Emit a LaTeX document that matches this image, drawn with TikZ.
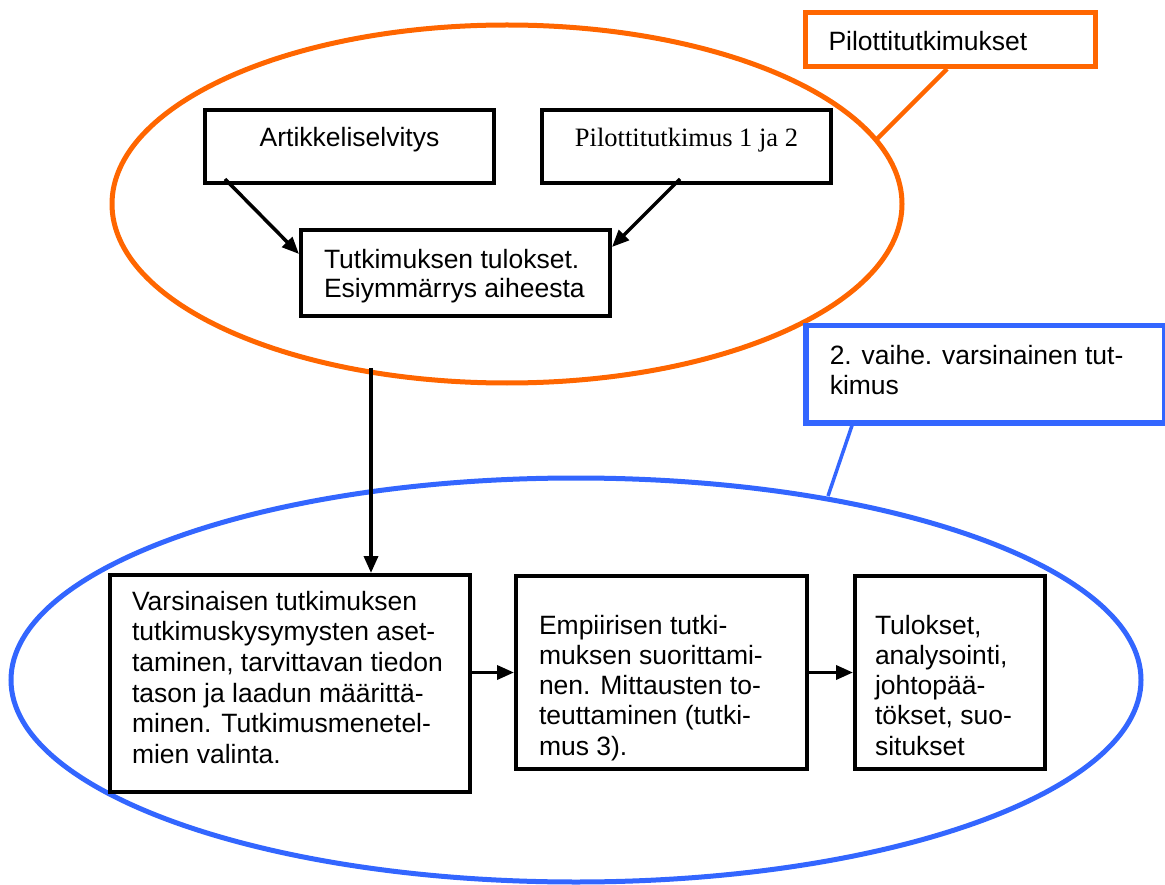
\documentclass[tikz,border=0pt]{standalone}
\usepackage{fontspec}
\setmainfont{Liberation Sans}
\newfontfamily\timesfont{Liberation Serif}
\usetikzlibrary{arrows.meta,calc}
\definecolor{ora}{HTML}{FF6600}
\definecolor{blu}{HTML}{3366FF}
% box contents: width, height, alignment setup, line skip, first baseline, text
\newcommand{\boxtext}[6]{\parbox[c][#2][t]{#1}{\fontsize{26.5pt}{#4}\selectfont#3\rule{0pt}{#5}#6}}

\begin{document}
\begin{tikzpicture}[x=1pt,y=-1pt,
  blackbox/.style={draw=black, line width=4pt, fill=white, inner sep=0pt, anchor=north west},
  orangebox/.style={draw=ora, line width=5pt, fill=white, inner sep=0pt, anchor=north west},
  bluebox/.style={draw=blu, line width=5.5pt, fill=white, inner sep=0pt, anchor=north west},
  flow/.style={line width=3.5pt, -{Triangle[length=17pt,width=14pt]}},
  ring/.style={line width=5pt},
]
\useasboundingbox (0,0) rectangle (1165,885);

% the two phases
\draw[ring, draw=ora] (507,204) ellipse [x radius=395pt, y radius=179pt];
\draw[ring, draw=blu] (576,680) ellipse [x radius=565pt, y radius=202pt];

% phase labels
\node[orangebox] (pilotlabel) at (803,10)
  {\boxtext{290pt}{54pt}{\leftskip=23pt}{30pt}{38pt}{Pilottitutkimukset}};
\node[bluebox] (mainlabel) at (803,323)
  {\boxtext{359pt}{97pt}{\leftskip=24pt}{30pt}{39pt}{2. vaihe. varsinainen tut-\\kimus}};

% pilot phase
\node[blackbox] (art) at (203,108)
  {\boxtext{289pt}{73pt}{\centering}{30pt}{37pt}{Artikkeliselvitys}};
\node[blackbox] (pil) at (540,108)
  {\boxtext{289pt}{73pt}{\centering\timesfont}{30pt}{37pt}{Pilottitutkimus 1 ja 2}};
\node[blackbox] (res) at (299,228)
  {\boxtext{309pt}{86pt}{\leftskip=23pt}{29pt}{39pt}{Tutkimuksen tulokset.\\Esiymmärrys aiheesta}};

% main study
\node[blackbox] (plan) at (108,573)
  {\boxtext{360pt}{217pt}{\leftskip=22pt}{30.7pt}{35pt}{Varsinaisen tutkimuksen\\tutkimuskysymysten aset-\\taminen, tarvittavan tiedon\\tason ja laadun määrittä-\\minen. Tutkimusmenetel-\\mien valinta.}};
\node[blackbox] (emp) at (514,574)
  {\boxtext{291pt}{193pt}{\leftskip=23pt}{30.3pt}{58pt}{Empiirisen tutki-\\muksen suorittami-\\nen. Mittausten to-\\teuttaminen (tutki-\\mus 3).}};
\node[blackbox] (out) at (853,574)
  {\boxtext{190pt}{193pt}{\leftskip=20pt}{30.3pt}{58pt}{Tulokset,\\analysointi,\\johtopää-\\tökset, suo-\\situkset}};

% flow arrows
\draw[flow] ($(art.south west)+(22,-6)$) -- ($(res.west)+(0,-19)$);
\draw[flow] ($(pil.south west)+(140,-6)$) -- ($(res.east)+(0,-26)$);
\coordinate (drop) at (371,368);
\draw[flow] (drop) -- (drop |- plan.north);
\draw[flow] (plan.east |- emp.west) -- (emp.west);
\draw[flow] (emp.east) -- (out.west);

% label pointers
\coordinate (otip) at (876,140);
\draw[draw=ora, line width=4.5pt] ($(pilotlabel.south west)+(144,0)$) -- (otip);
\coordinate (btip) at (828,496);
\draw[draw=blu, line width=3.5pt] ($(mainlabel.south west)+(49,0)$) -- (btip);
\end{tikzpicture}
\end{document}
